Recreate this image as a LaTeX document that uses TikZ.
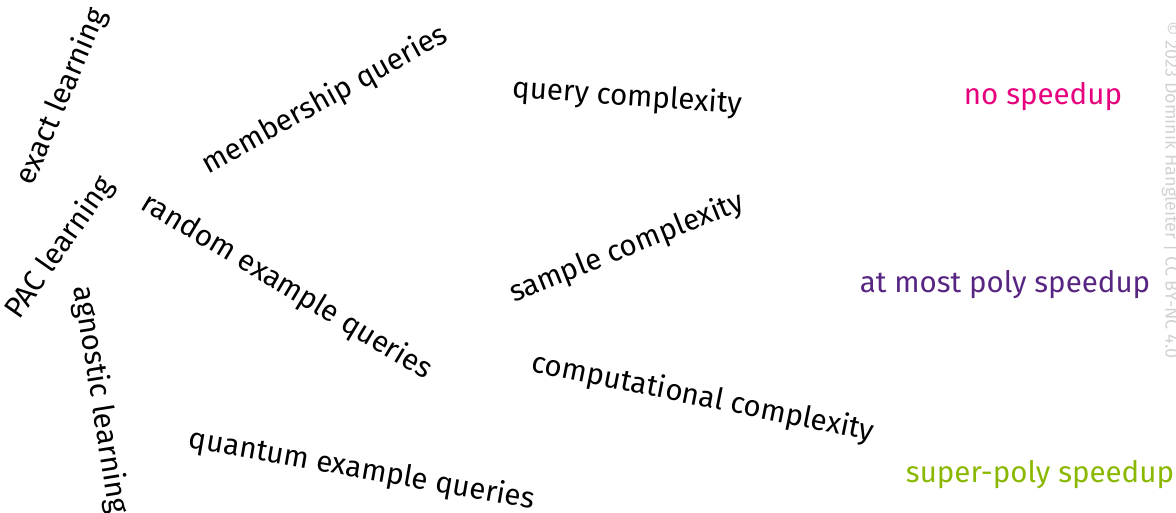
\documentclass[tikz,border=0pt]{standalone}
\usepackage{fontspec}
\setmainfont{Fira Sans}
\definecolor{nospeed}{RGB}{230,0,126}
\definecolor{polyspeed}{RGB}{88,38,130}
\definecolor{superspeed}{RGB}{138,184,0}
\definecolor{credit}{RGB}{210,210,210}
\tikzset{
  term/.style={inner sep=0pt, font=\fontsize{29.5}{34}\selectfont},
  speedup/.style={term},
}
\begin{document}
\begin{tikzpicture}[x=1pt,y=-1pt]
\useasboundingbox (0,0) rectangle (1176,513);
% learning models
\node[term, rotate=67] (exact) at (62,97) {exact learning};
\node[term, rotate=55] (pac) at (60,248) {PAC learning};
\node[term, rotate=-81] (agnostic) at (100,400) {agnostic learning};

% query access
\node[term, rotate=29] (membership) at (325,100) {membership queries};
\node[term, rotate=-31] (random) at (287,287) {random example queries};
\node[term, rotate=-10] (quantum) at (362,470) {quantum example queries};

% complexity measures
\node[term, rotate=-4] (query) at (627,97) {query complexity};
\node[term, rotate=22] (sample) at (627,248) {sample complexity};
\node[term, rotate=-11.5] (comput) at (703,398) {computational complexity};

% speedups
\node[speedup, text=nospeed] (nospeedup) at (1043,97) {no speedup};
\node[speedup, text=polyspeed] (polyspeedup) at (1005,285) {at most poly speedup};
\node[speedup, text=superspeed] (superspeedup) at (1040,475) {super-poly speedup};

\node[inner sep=0pt, rotate=-90, text=credit, font=\fontsize{18}{20}\selectfont] (credit) at (1171,190) {\textcopyright\ 2023 Dominik Hangleiter | CC BY-NC 4.0};
\end{tikzpicture}
\end{document}
